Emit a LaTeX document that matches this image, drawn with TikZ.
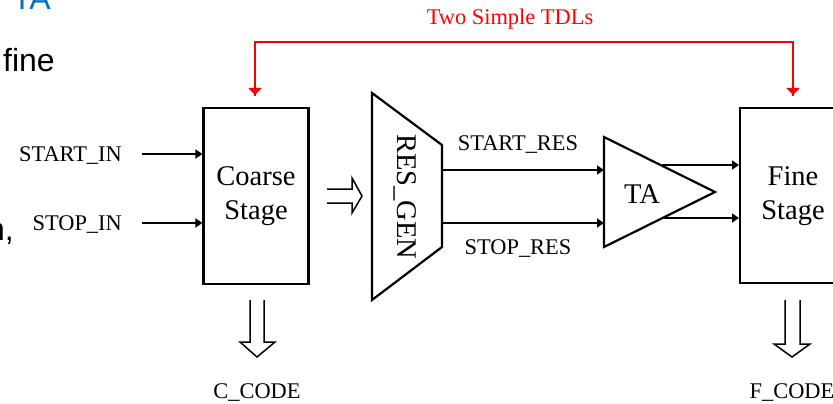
\documentclass[tikz,border=0pt]{standalone}
\usepackage{fontspec}
\setmainfont{Liberation Serif}
\newfontfamily\arialfont{Liberation Sans}
\usetikzlibrary{arrows.meta,positioning,calc}
\definecolor{slideblue}{RGB}{0,112,192}
\tikzset{
  lbl/.style={font=\fontsize{22.4}{26}\selectfont, inner sep=0pt},
  blocktext/.style={font=\fontsize{28.5}{34}\selectfont},
  blockbox/.style={draw, line width=2.2pt, align=center, inner sep=0pt},
  arr/.style={line width=2.2pt, -{Triangle[length=7pt,width=9pt]}},
  redarr/.style={draw=red, line width=2.2pt, -{Triangle[length=7pt,width=13pt]}},
  hollow/.style={line width=1.5pt, line join=miter},
  slidetxt/.style={font=\arialfont\fontsize{32}{38}\selectfont, inner sep=0pt}
}
\begin{document}
\begin{tikzpicture}[x=1pt,y=-1pt]
\clip (0,0) rectangle (833,404);
\fill[white] (0,0) rectangle (833,404);

% slide text fragments
\node[slidetxt, text=slideblue, anchor=base east] (frtA) at (51,10) {TA};
\node[slidetxt, anchor=base west] (frfine) at (3,71) {fine};
\node[slidetxt, anchor=base east] (frn) at (14,240) {n,};

% blocks
\node[blockbox, blocktext, minimum width=105pt, minimum height=176pt] (coarse) at (256,196) {Coarse\\[0pt]Stage};
\node[blockbox, minimum width=120pt, minimum height=175pt, anchor=north west] (fine) at (739,107) {};
\node[blocktext, align=center] (finetxt) at (793,196) {Fine\\[0pt]Stage};

% RES_GEN trapezoid
\coordinate (rgA) at (372,93);
\coordinate (rgB) at (442,145);
\coordinate (rgC) at (442,247);
\coordinate (rgD) at (372,300);
\draw[line width=2.2pt, line join=miter] (rgA) -- (rgB) -- (rgC) -- (rgD) -- cycle;
\node[blocktext, rotate=-90] (resgen) at (405,197) {RES\_GEN};

% TA triangle
\coordinate (taA) at (604,137);
\coordinate (taB) at (715,192);
\coordinate (taC) at (604,247);
\draw[line width=2.2pt, line join=miter] (taA) -- (taB) -- (taC) -- cycle;
\node[blocktext] (ta) at (642,194) {TA};

% inputs
\node[lbl, anchor=east] (startin) at (122,156) {START\_IN};
\node[lbl, anchor=east] (stopin) at (122,225) {STOP\_IN};
\coordinate (si0) at (142,154);
\coordinate (sp0in) at (142,223);
\draw[arr] (si0) -- (si0 -| coarse.west);
\draw[arr] (sp0in) -- (sp0in -| coarse.west);

% RES outputs
\coordinate (sr0) at (442,170);
\coordinate (sr1) at (604,170);
\coordinate (sp0) at (442,223);
\coordinate (sp1) at (604,223);
\draw[arr] (sr0) -- (sr1);
\draw[arr] (sp0) -- (sp1);
\node[lbl] (startres) at (518,145) {START\_RES};
\node[lbl] (stopres) at (518,249) {STOP\_RES};

% TA outputs
\coordinate (to1) at (662,165);
\coordinate (to2) at (662,218);
\draw[arr] (to1) -- (to1 -| fine.west);
\draw[arr] (to2) -- (to2 -| fine.west);

% hollow right arrow
\draw[hollow] (327,189) -- (352,189) -- (352,178) -- (362,196) -- (352,213) -- (352,203) -- (327,203);

% hollow down arrows
\draw[hollow] (250,300) -- (250,342) -- (240,342) -- (257,357) -- (275,342) -- (264,342) -- (264,300);
\draw[hollow] (785,300) -- (785,344) -- (774,344) -- (792,357) -- (810,344) -- (800,344) -- (800,300);
\node[lbl] (ccode) at (257,393) {C\_CODE};
\node[lbl] (fcode) at (792,393) {F\_CODE};

% red TDL connector
\coordinate (rtl) at (255,42);
\coordinate (rtr) at (793,42);
\draw[redarr] (rtl) -- (255,95);
\draw[redarr] (rtr) -- (793,95);
\draw[draw=red, line width=2.2pt, line join=miter] (255,96) -- (rtl) -- (rtr) -- (793,96);
\node[lbl, text=red] (tdl) at (510,19) {Two Simple TDLs};
\end{tikzpicture}
\end{document}
